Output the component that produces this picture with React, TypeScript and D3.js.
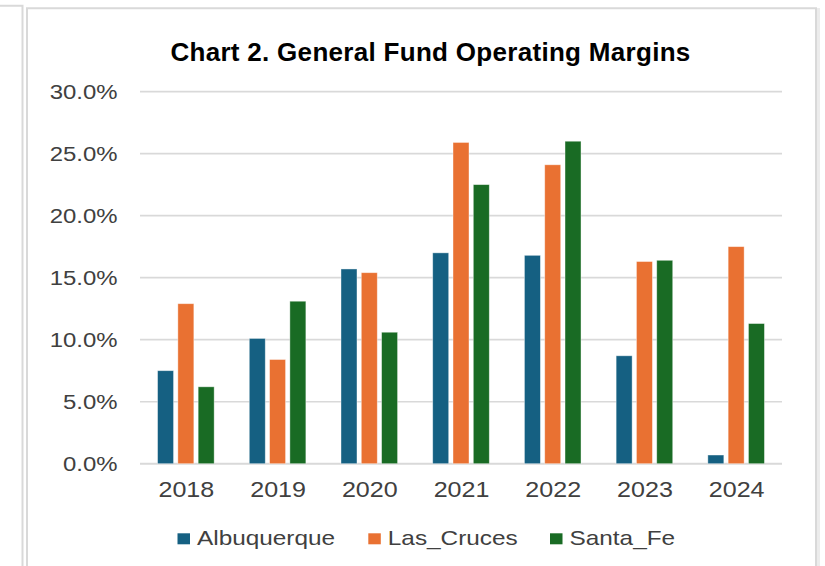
import React from "react";
import * as d3 from "d3";

const years = ["2018", "2019", "2020", "2021", "2022", "2023", "2024"];
const seriesNames = ["Albuquerque", "Las_Cruces", "Santa_Fe"];
const albuquerque = [7.5, 10.1, 15.7, 17.0, 16.8, 8.7, 0.7];
const lasCruces = [12.9, 8.4, 15.4, 25.9, 24.1, 16.3, 17.5];
const santaFe = [6.2, 13.1, 10.6, 22.5, 26.0, 16.4, 11.3];
const yTicks = [0, 5, 10, 15, 20, 25, 30];
const colors = ["#156082", "#E97132", "#196B24"];
const title = "Chart 2. General Fund Operating Margins";

const W = 825;
const H = 566;
const FONT = "'Liberation Sans', Arial, Helvetica, sans-serif";
const SX = 1.14;

export default function App() {
  const values = [albuquerque, lasCruces, santaFe];
  const x = d3.scaleBand<string>().domain(years).range([140, 782]).paddingInner(0).paddingOuter(0);
  const groupW = 60.9;
  const inner = d3
    .scaleBand<string>()
    .domain(seriesNames)
    .range([0, groupW])
    .paddingInner(0.212)
    .paddingOuter(0.106);
  const y = d3.scaleLinear().domain([0, 30]).range([463.7, 91.6]);
  const fmt = (v: number) => v.toFixed(1) + "%";

  const legendX = [177.5, 368.3, 550];

  return (
    <svg
      width={W}
      height={H}
      viewBox={`0 0 ${W} ${H}`}
      style={{ position: "absolute", left: 0, top: 0, background: "#fff" }}
    >
      <rect x={0} y={0} width={W} height={H} fill="#fff" />
      {/* outer frames */}
      <path d={`M0,5.7 H22.5 V${H}`} fill="none" stroke="#d9d9d9" strokeWidth={2} />
      <path d={`M27,${H} V8.3 H816 V${H}`} fill="none" stroke="#d9d9d9" strokeWidth={2} />
      <rect x={817} y={8} width={3} height={H} fill="#ececec" />

      <text
        x={430.5}
        y={61}
        textAnchor="middle"
        fontFamily={FONT}
        fontSize={26}
        fontWeight="bold"
        letterSpacing={0.3}
        fill="#000"
      >
        {title}
      </text>

      {/* gridlines */}
      {yTicks.map((t) => (
        <line
          key={"g" + t}
          x1={140}
          x2={782}
          y1={y(t)}
          y2={y(t)}
          stroke="#d9d9d9"
          strokeWidth={t === 0 ? 2 : 1.6}
        />
      ))}
      {yTicks.map((t) => (
        <text
          key={"t" + t}
          transform={`translate(117.5,${y(t)}) scale(${SX},1)`}
          dy="0.36em"
          textAnchor="end"
          fontFamily={FONT}
          fontSize={21}
          fill="#404040"
        >
          {fmt(t)}
        </text>
      ))}

      {/* bars */}
      {years.map((yr, i) => {
        const cx = (x(yr) as number) + x.bandwidth() / 2;
        const gx = cx - groupW / 2;
        return (
          <g key={yr}>
            {seriesNames.map((s, j) => {
              const v = values[j][i];
              return (
                <rect
                  key={s}
                  x={gx + (inner(s) as number)}
                  y={y(v)}
                  width={inner.bandwidth()}
                  height={y(0) - y(v)}
                  fill={colors[j]}
                  stroke="#ffffff"
                  strokeOpacity={0.5}
                  strokeWidth={0.8}
                />
              );
            })}
            <text
              transform={`translate(${cx + 0.5},496.7) scale(${SX},1)`}
              textAnchor="middle"
              fontFamily={FONT}
              fontSize={22}
              fill="#404040"
            >
              {yr}
            </text>
          </g>
        );
      })}

      {/* legend */}
      {seriesNames.map((s, j) => (
        <g key={"l" + s}>
          <rect x={legendX[j]} y={533.3} width={12.5} height={11} fill={colors[j]} />
          <text
            transform={`translate(${legendX[j] + 19.5},544.5) scale(1.16,1)`}
            fontFamily={FONT}
            fontSize={21}
            fill="#404040"
          >
            {s}
          </text>
        </g>
      ))}
    </svg>
  );
}
